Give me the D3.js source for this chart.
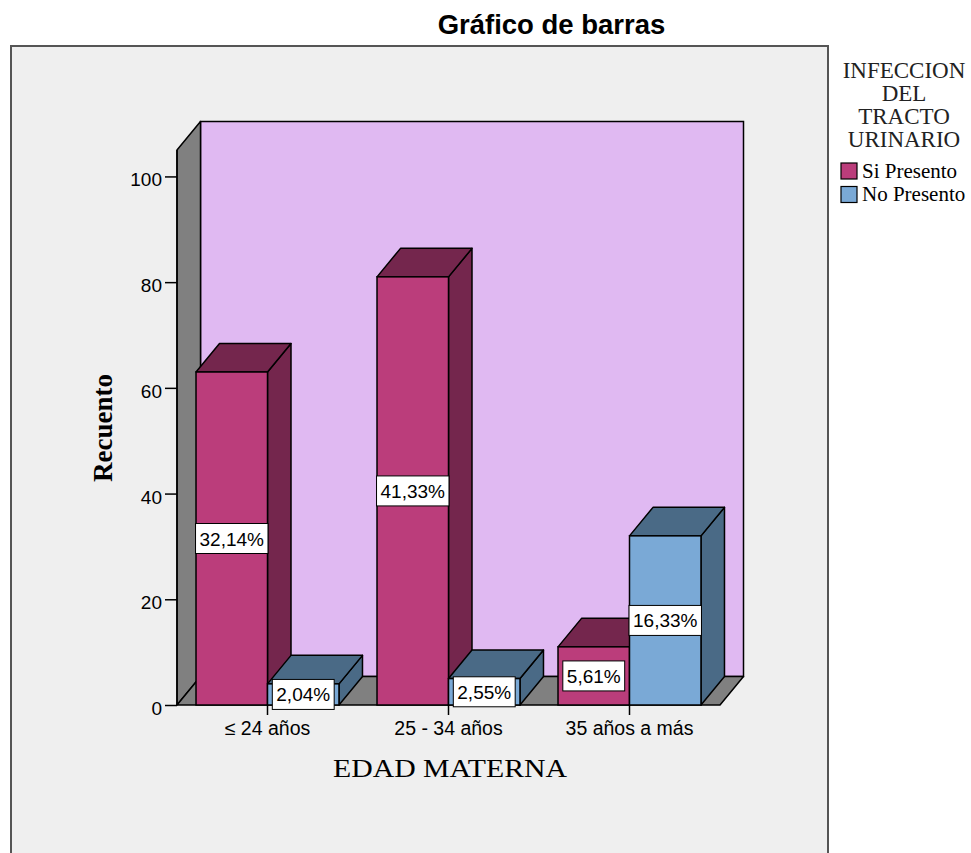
<!DOCTYPE html>
<html>
<head>
<meta charset="utf-8">
<script src="https://cdn.jsdelivr.net/npm/d3@7"></script>
<style>
  html, body { margin: 0; padding: 0; background: #ffffff; }
  svg { display: block; }
</style>
</head>
<body>
<script>
// ---- Data ----
const categories = ["≤ 24 años", "25 - 34 años", "35 años a más"];
const seriesNames = ["Si Presento", "No Presento"];
const siValues = [63, 81, 11];
const noValues = [4, 5, 32];
const siLabels = ["32,14%", "41,33%", "5,61%"];
const noLabels = ["2,04%", "2,55%", "16,33%"];
const yTicks = [0, 20, 40, 60, 80, 100];
const legendTitleLines = ["INFECCION", "DEL", "TRACTO", "URINARIO"];

// ---- Styles ----
const W = 971, H = 853;
const sansFont = "'Liberation Sans', Arial, sans-serif";
const serifFont = "'Liberation Serif', 'Times New Roman', serif";
const colors = {
  "Si Presento": { front: "#bb3d7b", side: "#74264d" },
  "No Presento": { front: "#7aa9d6", side: "#4a6a86" }
};
const wallColor = "#808080";
const backColor = "#e0b9f2";
const frameFill = "#efefef";
const DX = 23.5, DY = -28.5;

const svg = d3.select("body").append("svg").attr("width", W).attr("height", H);

// Frame
svg.append("rect").attr("x", 11).attr("y", 46).attr("width", 817).attr("height", 900)
  .attr("fill", frameFill).attr("stroke", "#555").attr("stroke-width", 2);

// Title
svg.append("text").attr("x", 551.5).attr("y", 34).attr("text-anchor", "middle")
  .attr("font-family", sansFont).attr("font-weight", "bold").attr("font-size", 27.5)
  .attr("fill", "#000").text("Gráfico de barras");

// Scales
const x = d3.scaleBand().domain(categories).range([177, 720]).padding(0);
const xs = d3.scaleBand().domain(seriesNames).range([0, x.bandwidth()]).paddingInner(0).paddingOuter(0.266);
const y = d3.scaleLinear().domain([0, 105]).range([705, 150]);

const x0 = x.range()[0], x1 = x.range()[1];
const yBottom = y(0), yTop = y(105);

const g = svg.append("g");

// Back wall
g.append("rect").attr("x", x0 + DX).attr("y", yTop + DY)
  .attr("width", x1 - x0).attr("height", yBottom - yTop)
  .attr("fill", backColor).attr("stroke", "#000").attr("stroke-width", 1.5);

// Left wall
g.append("polygon")
  .attr("points", [[x0, yTop], [x0 + DX, yTop + DY], [x0 + DX, yBottom + DY], [x0, yBottom]].map(p => p.join(",")).join(" "))
  .attr("fill", wallColor).attr("stroke", "#000").attr("stroke-width", 1.5).attr("stroke-linejoin", "round");

// Floor
g.append("polygon")
  .attr("points", [[x0, yBottom], [x0 + DX, yBottom + DY], [x1 + DX, yBottom + DY], [x1, yBottom]].map(p => p.join(",")).join(" "))
  .attr("fill", wallColor).attr("stroke", "#000").attr("stroke-width", 1.5).attr("stroke-linejoin", "round");

// Build bars
const bars = [];
categories.forEach((c, i) => {
  bars.push({ cat: c, series: "Si Presento", value: siValues[i], label: siLabels[i] });
  bars.push({ cat: c, series: "No Presento", value: noValues[i], label: noLabels[i] });
});

const bw = xs.bandwidth();
bars.forEach(d => {
  const bx = x(d.cat) + xs(d.series);
  const by = y(d.value);
  const col = colors[d.series];
  const bg = g.append("g");
  // side face
  bg.append("polygon")
    .attr("points", [[bx + bw, by], [bx + bw + DX, by + DY], [bx + bw + DX, yBottom + DY], [bx + bw, yBottom]].map(p => p.join(",")).join(" "))
    .attr("fill", col.side).attr("stroke", "#000").attr("stroke-width", 1.5).attr("stroke-linejoin", "round");
  // top face
  bg.append("polygon")
    .attr("points", [[bx, by], [bx + DX, by + DY], [bx + bw + DX, by + DY], [bx + bw, by]].map(p => p.join(",")).join(" "))
    .attr("fill", col.side).attr("stroke", "#000").attr("stroke-width", 1.5).attr("stroke-linejoin", "round");
  // front face
  bg.append("rect").attr("x", bx).attr("y", by).attr("width", bw).attr("height", yBottom - by)
    .attr("fill", col.front).attr("stroke", "#000").attr("stroke-width", 1.5);
});

// Y axis ticks
const yAxis = d3.axisLeft(y).tickValues(yTicks).tickSize(12).tickPadding(3).tickFormat(d3.format("d"));
const ya = svg.append("g").attr("transform", `translate(${x0},0)`).call(yAxis);
ya.select(".domain").remove();
ya.selectAll(".tick line").attr("stroke", "#000").attr("stroke-width", 1.5);
ya.selectAll(".tick text").attr("font-family", sansFont).attr("font-size", 19).attr("fill", "#000")
  .attr("dy", null).attr("y", 9.5);

// Y axis line (front edge of wall)
svg.append("line").attr("x1", x0).attr("x2", x0).attr("y1", yTop).attr("y2", yBottom)
  .attr("stroke", "#000").attr("stroke-width", 1.5);

// X axis ticks & labels
const xAxis = d3.axisBottom(x).tickSize(10).tickPadding(10);
const xa = svg.append("g").attr("transform", `translate(0,${yBottom})`).call(xAxis);
xa.select(".domain").remove();
xa.selectAll(".tick line").attr("stroke", "#000").attr("stroke-width", 1.5);
xa.selectAll(".tick text").attr("font-family", sansFont).attr("font-size", 19.5).attr("fill", "#000")
  .attr("dy", null).attr("y", 30);

// Bar labels
const lg = svg.append("g");
bars.forEach(d => {
  const cx = x(d.cat) + xs(d.series) + bw / 2;
  const cy = (y(d.value) + yBottom) / 2;
  const t = lg.append("text").attr("x", cx).attr("y", cy + 7).attr("text-anchor", "middle")
    .attr("font-family", sansFont).attr("font-size", 19).attr("fill", "#000").text(d.label);
  const tw = t.node().getComputedTextLength();
  lg.insert("rect", () => t.node())
    .attr("x", cx - tw / 2 - 4).attr("y", cy - 15).attr("width", tw + 8).attr("height", 30)
    .attr("fill", "#fff").attr("stroke", "#000").attr("stroke-width", 1);
});

// Axis titles
svg.append("text").attr("transform", `translate(112,428) rotate(-90)`).attr("text-anchor", "middle")
  .attr("font-family", serifFont).attr("font-weight", "bold").attr("font-size", 27)
  .attr("fill", "#000").text("Recuento");

svg.append("text").attr("x", 450).attr("y", 777).attr("text-anchor", "middle")
  .attr("font-family", serifFont).attr("font-size", 26)
  .attr("textLength", 234).attr("lengthAdjust", "spacingAndGlyphs")
  .attr("fill", "#000").text("EDAD MATERNA");

// Legend
const leg = svg.append("g");
legendTitleLines.forEach((l, i) => {
  leg.append("text").attr("x", 904).attr("y", 78 + i * 23).attr("text-anchor", "middle")
    .attr("font-family", serifFont).attr("font-size", 23).attr("fill", "#222").text(l);
});
seriesNames.forEach((s, i) => {
  const yy = 163 + i * 23.5;
  leg.append("rect").attr("x", 841).attr("y", yy).attr("width", 16).attr("height", 16)
    .attr("fill", colors[s].front).attr("stroke", "#000").attr("stroke-width", 1.2);
  leg.append("text").attr("x", 862).attr("y", yy + 14.5)
    .attr("font-family", serifFont).attr("font-size", 21).attr("fill", "#000").text(s);
});
</script>
</body>
</html>
